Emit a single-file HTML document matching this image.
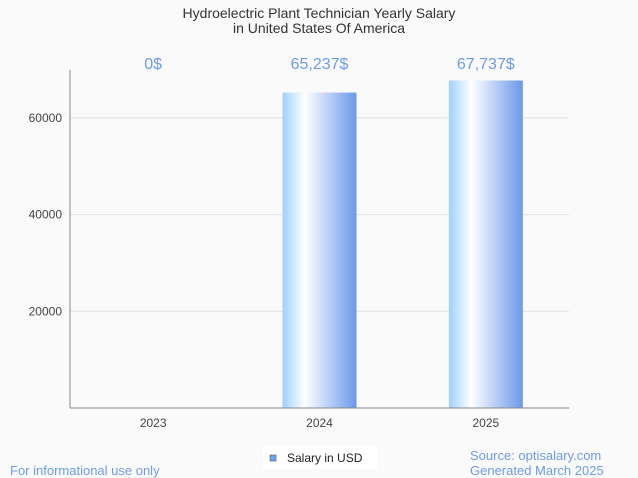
<!DOCTYPE html>
<html><head><meta charset="utf-8"><style>
body{margin:0;background:#fafafa;font-family:"Liberation Sans",sans-serif;}
svg{display:block}
</style></head><body>
<svg width="638" height="478" viewBox="0 0 638 478">
<defs>
<linearGradient id="bg" x1="0" x2="1" y1="0" y2="0">
<stop offset="0" stop-color="#9fd0ff"/>
<stop offset="0.3" stop-color="#ffffff"/>
<stop offset="1" stop-color="#6b98ea"/>
</linearGradient>
</defs>
<rect width="638" height="478" fill="#fafafa"/>
<text x="319" y="18" text-anchor="middle" font-size="14" fill="#333">Hydroelectric Plant Technician Yearly Salary</text>
<text x="319" y="33" text-anchor="middle" font-size="14" fill="#333">in United States Of America</text>
<g id="grid"></g>
<g id="bars"></g>
<line x1="70" y1="70" x2="70" y2="408" stroke="#888"/>
<line x1="70" y1="408" x2="569" y2="408" stroke="#888"/>
<rect x="263" y="446" width="114" height="23" fill="#fff"/>
<rect x="270" y="455" width="6" height="6" fill="#6ba6ee" stroke="#555" stroke-width="0.6"/>
<text x="287" y="462" font-size="12" fill="#222">Salary in USD</text>
<text x="10" y="475" font-size="13" fill="#6f9be6">For informational use only</text>
<text x="470" y="460" font-size="13" fill="#6f9be6">Source: optisalary.com</text>
<text x="470" y="475" font-size="13" fill="#6f9be6">Generated March 2025</text>
</svg>
<script>
const categories = ["2023","2024","2025"];
const salaries = [0, 65237, 67737];
const valueLabels = ["0$","65,237$","67,737$"];
const yTicks = [20000, 40000, 60000];
const x0=70, x1=569, yBase=408, pxPer=96.7/20000;
const y = v => yBase - v*pxPer;
const band = (x1-x0)/categories.length;
const xc = i => x0 + band*(i+0.5);
const NS="http://www.w3.org/2000/svg";
const grid=document.getElementById('grid'), bars=document.getElementById('bars');
yTicks.forEach(t=>{
  const l=document.createElementNS(NS,'line');
  l.setAttribute('x1',x0);l.setAttribute('x2',x1);l.setAttribute('y1',y(t));l.setAttribute('y2',y(t));
  l.setAttribute('stroke','#e2e2e2');
  
  
  grid.appendChild(l);
  const tx=document.createElementNS(NS,'text');
  tx.setAttribute('x',62);tx.setAttribute('y',y(t)+4);tx.setAttribute('text-anchor','end');
  tx.setAttribute('font-size','12');tx.setAttribute('fill','#444');tx.textContent=t;
  
  
  grid.appendChild(tx);
});
categories.forEach((c,i)=>{
  const bw=74;
  if(salaries[i]>0){
    const r=document.createElementNS(NS,'rect');
    r.setAttribute('x',xc(i)-bw/2);r.setAttribute('width',bw);
    r.setAttribute('y',y(salaries[i]));r.setAttribute('height',yBase-y(salaries[i]));
    r.setAttribute('fill','url(#bg)');
    
    
    bars.appendChild(r);
  }
  const v=document.createElementNS(NS,'text');
  v.setAttribute('x',xc(i));v.setAttribute('y',69);v.setAttribute('text-anchor','middle');
  v.setAttribute('font-size','16');v.setAttribute('fill','#6f9be6');v.textContent=valueLabels[i];
  
  
  bars.appendChild(v);
  const t=document.createElementNS(NS,'text');
  t.setAttribute('x',xc(i));t.setAttribute('y',427);t.setAttribute('text-anchor','middle');
  t.setAttribute('font-size','12');t.setAttribute('fill','#444');t.textContent=c;
  
  
  bars.appendChild(t);
});
</script>
</body></html>
